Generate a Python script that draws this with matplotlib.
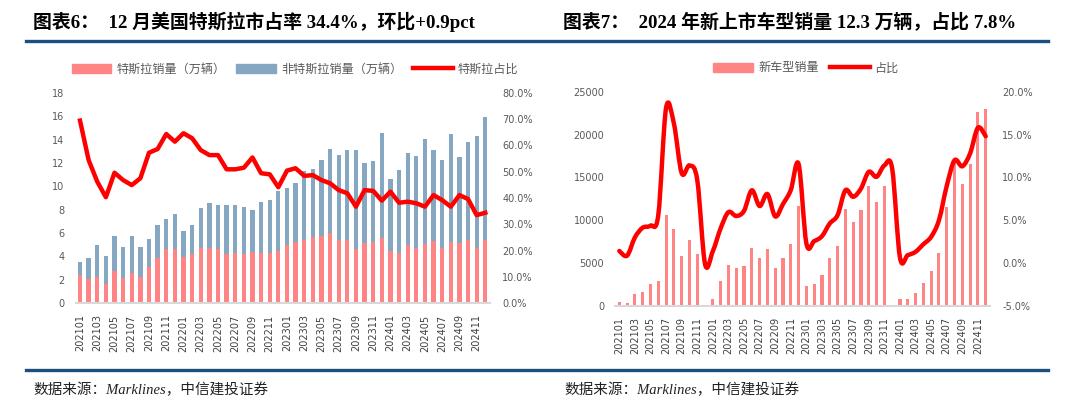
import numpy as np
import matplotlib
matplotlib.use("Agg")
import matplotlib.pyplot as plt
from matplotlib.path import Path
from matplotlib.patches import PathPatch, Patch
from matplotlib.lines import Line2D

plt.rcParams['font.family'] = ['DejaVu Sans', 'Noto Sans CJK SC']

# ---- data ----
months = [f"{y}{m:02d}" for y in (2021, 2022, 2023, 2024) for m in range(1, 13)]

# 图表6: 美国特斯拉 / 非特斯拉销量 (万辆), 特斯拉占比 (%)
tesla = [2.4, 2.1, 2.25, 1.62, 2.8, 2.2, 2.56, 2.25, 3.1, 3.9, 4.6, 4.64,
         3.93, 4.2, 4.75, 4.75, 4.67, 4.24, 4.27, 4.24, 4.4, 4.3, 4.3, 4.44,
         4.96, 5.24, 5.44, 5.64, 5.78, 5.98, 5.41, 5.38, 4.67, 5.16, 5.21, 5.56,
         4.44, 4.33, 4.99, 4.76, 5.1, 5.36, 4.73, 5.24, 5.16, 5.41, 4.73, 5.44]
non_tesla = [1.1, 1.75, 2.7, 2.45, 2.95, 2.65, 3.19, 2.55, 2.37, 2.82, 2.58, 2.99,
             2.22, 2.5, 3.43, 3.8, 3.73, 4.13, 4.1, 3.99, 3.58, 4.33, 4.5, 5.13,
             4.9, 5.02, 5.9, 5.84, 6.47, 7.21, 7.24, 7.7, 8.41, 6.84, 6.98, 8.97,
             6.16, 7.07, 7.89, 7.86, 8.92, 7.72, 7.55, 9.2, 7.32, 8.38, 9.57, 10.51]
tesla_share = [69.4, 54.4, 46.2, 40.3, 49.6, 46.8, 44.9, 47.5, 57.2, 58.6, 64.3, 61.4,
               64.6, 62.7, 58.2, 56.3, 56.3, 50.9, 50.9, 51.5, 55.4, 49.4, 49.0, 44.1,
               50.4, 51.3, 48.4, 48.7, 46.8, 45.6, 43.0, 41.8, 36.7, 43.0, 42.7, 39.0,
               42.4, 38.2, 38.6, 38.0, 36.7, 41.1, 39.2, 36.7, 41.1, 39.6, 33.5, 34.4]

# 图表7: 新车型销量 (辆), 占比 (%)
new_model = [470, 310, 1360, 1590, 2530, 2880, 10575, 9020, 5830, 7700, 6100, 0,
             780, 2880, 4780, 4470, 4630, 6730, 5560, 6610, 4390, 5560, 7230, 11660,
             2370, 2570, 3580, 5560, 7040, 11350, 9760, 11200, 14000, 12130, 14040, 0,
             855, 855, 1480, 2720, 4120, 6140, 11510, 17000, 14200, 16600, 22590, 22980]
new_share = [1.42, 0.87, 3.0, 4.14, 4.37, 5.6, 18.1, 16.3, 10.5, 11.4, 9.7, -0.1,
             1.4, 4.06, 5.95, 5.5, 6.1, 8.5, 6.66, 8.06, 5.45, 6.9, 8.53, 11.56,
             2.3, 2.57, 3.15, 4.63, 5.6, 8.5, 7.74, 8.7, 10.65, 10.07, 11.4, 11.04,
             0.66, 0.93, 1.32, 2.2, 3.07, 5.0, 9.0, 12.0, 11.3, 12.8, 15.8, 14.8]

PINK = '#FF8585'
BLUE = '#85A7C2'
RED = '#FF0000'
GRAY = '#595959'
RULE = '#1B4F7E'
CJK = ['Noto Sans CJK SC', 'DejaVu Sans']
TITLE_F = ['Liberation Serif', 'Noto Sans CJK SC']

W, H = 1080, 404
fig = plt.figure(figsize=(W / 100, H / 100), dpi=100)


def fx(px):
    return px / W


def fy(py):
    return 1 - py / H


def smooth_path(x, y):
    # Excel-style smoothed line: Catmull-Rom segments as cubic Bezier
    x = np.asarray(x, float)
    y = np.asarray(y, float)
    n = len(x)
    verts = [(x[0], y[0])]
    codes = [Path.MOVETO]
    for i in range(n - 1):
        i0 = max(i - 1, 0)
        i3 = min(i + 2, n - 1)
        c1 = (x[i] + (x[i + 1] - x[i0]) / 6, y[i] + (y[i + 1] - y[i0]) / 6)
        c2 = (x[i + 1] - (x[i3] - x[i]) / 6, y[i + 1] - (y[i3] - y[i]) / 6)
        verts += [c1, c2, (x[i + 1], y[i + 1])]
        codes += [Path.CURVE4] * 3
    return Path(verts, codes)


def style_axes(ax, ax2):
    for a in (ax, ax2):
        for s in a.spines.values():
            s.set_visible(False)
        a.tick_params(length=0, labelsize=7, colors=GRAY)
    ax.spines['bottom'].set_visible(True)
    ax.spines['bottom'].set_color('#D9D9D9')
    ax.spines['bottom'].set_linewidth(1.5)
    ax.tick_params(axis='y', pad=8)
    ax2.tick_params(axis='y', pad=9)
    ax.tick_params(axis='x', pad=8)
    ax.set_xlim(-0.5, len(months) - 0.5)
    ax.set_xticks(range(0, len(months), 2))
    ax.set_xticklabels(months[::2], rotation=90, color='#404040')


x = np.arange(len(months))

# ---- left chart ----
ax1 = fig.add_axes([fx(75.7), fy(303.3), fx(489.6 - 75.7), (303.3 - 92.7) / H])
ax1b = ax1.twinx()
ax1.bar(x, tesla, width=0.5, color=PINK, zorder=2)
ax1.bar(x, non_tesla, width=0.5, bottom=tesla, color=BLUE, zorder=2)
ax1b.plot(x, tesla_share, color=RED, lw=3.2, solid_joinstyle='round')
ax1.set_ylim(0, 18)
ax1.set_yticks(range(0, 19, 2))
ax1b.set_ylim(0, 80)
ax1b.set_yticks(range(0, 81, 10))
ax1b.set_yticklabels([f"{v:.1f}%" for v in range(0, 81, 10)])
style_axes(ax1, ax1b)

# ---- right chart ----
ax2 = fig.add_axes([fx(615.4), fy(306), fx(989.6 - 615.4), (306 - 91.7) / H])
ax2b = ax2.twinx()
ax2.bar(x, new_model, width=0.4, color=PINK, zorder=2)
ax2b.add_patch(PathPatch(smooth_path(x, new_share), fill=False, edgecolor=RED,
                         lw=3.2, capstyle='round', joinstyle='round'))
ax2.set_ylim(0, 25000)
ax2.set_yticks(range(0, 25001, 5000))
ax2b.set_ylim(-5, 20)
ax2b.set_yticks(range(-5, 21, 5))
ax2b.set_yticklabels([f"{v:.1f}%" for v in range(-5, 21, 5)])
style_axes(ax2, ax2b)

# ---- legends ----
leg_kw = dict(frameon=False, ncol=3, prop={'family': CJK, 'size': 8.7},
              handlelength=3.3, handletextpad=0.4, columnspacing=0.9,
              labelcolor=GRAY, loc='center')
fig.legend([Patch(color=PINK), Patch(color=BLUE), Line2D([], [], color=RED, lw=3.2)],
           ['特斯拉销量（万辆）', '非特斯拉销量（万辆）', '特斯拉占比'],
           bbox_to_anchor=(fx(295), fy(69)), **leg_kw)
fig.legend([Patch(color=PINK), Line2D([], [], color=RED, lw=3.2)],
           ['新车型销量', '占比'],
           bbox_to_anchor=(fx(806), fy(68)), **leg_kw)

# ---- titles, rules, source ----
fig.text(fx(33), fy(22), '图表6：  12 月美国特斯拉市占率 34.4%，环比+0.9pct',
         family=TITLE_F, weight='bold', fontsize=13.6, va='center', ha='left')
fig.text(fx(563), fy(22), '图表7：  2024 年新上市车型销量 12.3 万辆，占比 7.8%',
         family=TITLE_F, weight='bold', fontsize=13.6, va='center', ha='left')
for yy in (40.5, 369.5):
    fig.add_artist(Line2D([fx(26), fx(1048)], [fy(yy), fy(yy)], color=RULE, lw=2.4))
for xx in (33, 564):
    fig.text(fx(xx), fy(390), '数据来源：Marklines，中信建投证券', family=TITLE_F,
             style='italic', fontsize=10.5, va='center', ha='left', color='#222222')

fig.savefig('out.png', dpi=100)
